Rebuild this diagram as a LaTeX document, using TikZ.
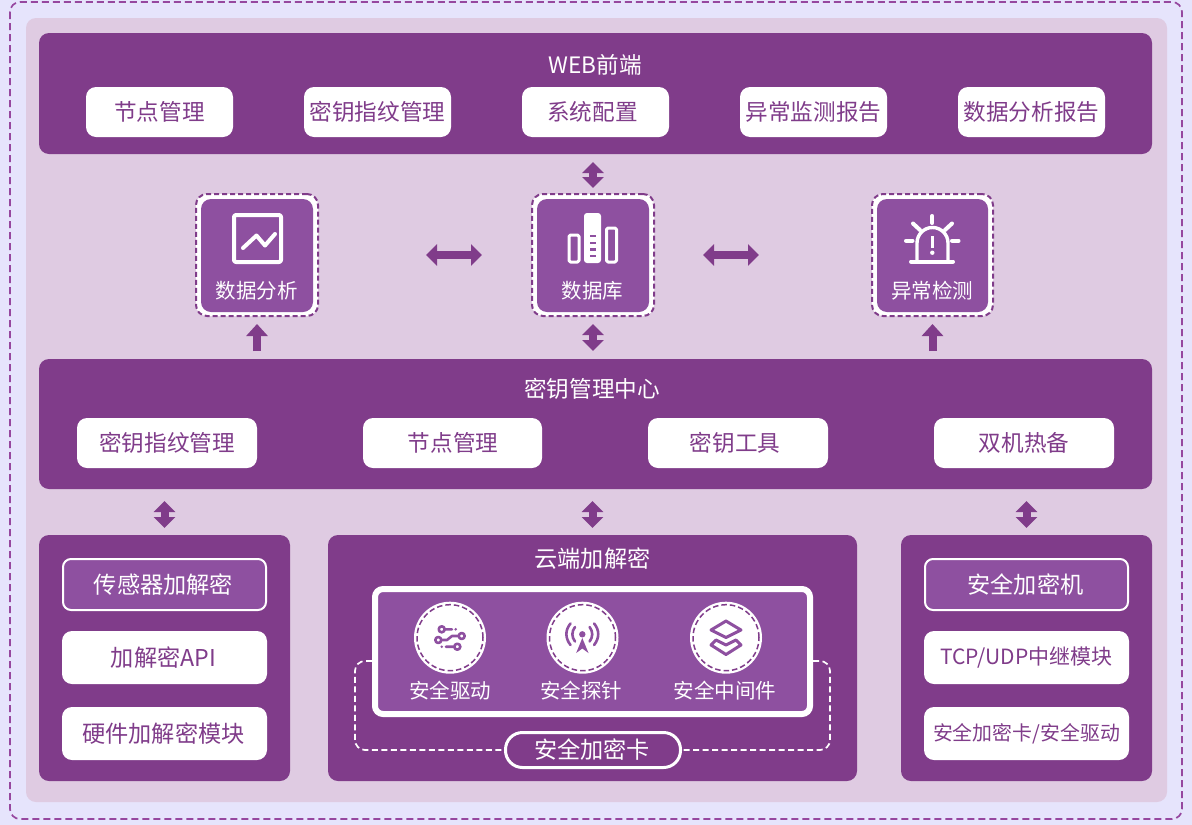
\documentclass[tikz,border=0pt]{standalone}
\usepackage{fontspec}
\setmainfont{Noto Sans CJK SC}
\usetikzlibrary{arrows.meta,calc}
\definecolor{mainp}{HTML}{803C8A}
\definecolor{innerp}{HTML}{8E50A0}
\definecolor{panelp}{HTML}{DFCBE2}
\definecolor{outerb}{HTML}{E6E4FC}
\definecolor{dashp}{HTML}{96479F}
\tikzset{
  sized/.style 2 args={minimum width=#1pt,minimum height=#2pt},
  box/.style={rounded corners=#1,inner sep=0pt,outer sep=0pt,anchor=north west},
  band/.style={box=10pt,fill=mainp},
  big/.style={font=\fontsize{23.2}{24}\selectfont},
  chip/.style={box=10pt,fill=white,text=mainp,font=\fontsize{22.6}{23}\selectfont},
  chipout/.style={box=8pt,fill=innerp,draw=white,line width=2pt,text=white,big},
  title/.style={text=white,font=\fontsize{22.6}{23}\selectfont,inner sep=0pt},
  lab/.style={text=white,font=\fontsize{20.5}{20.5}\selectfont,inner sep=0pt},
  dashbox/.style={box=11pt,fill=white,draw=mainp,line width=2pt,dash pattern=on 5pt off 3pt},
  core/.style={box=10pt,fill=innerp},
  biarrow/.style={draw=mainp,line width=8pt,{Triangle[length=11pt,width=21pt,fill=mainp]}-{Triangle[length=11pt,width=21pt,fill=mainp]}},
  uparrow/.style={draw=mainp,line width=8pt,-{Triangle[length=12pt,width=21pt,fill=mainp]}},
  ico/.style={draw=white,line width=4pt,line cap=round,line join=round},
  icop/.style={draw=innerp,line width=2.6pt,line cap=round,line join=round},
  disc/.style={circle,fill=white,inner sep=0pt,minimum size=72pt,outer sep=0pt},
  cable/.style={draw=white,line width=1.7pt,dash pattern=on 6pt off 3.5pt,rounded corners=10pt},
}
\begin{document}
\begin{tikzpicture}[x=1pt,y=-1pt]
\useasboundingbox (0,0) rectangle (1192,825);
\fill[outerb] (0,0) rectangle (1192,825);
\draw[dashp,line width=1.7pt,dash pattern=on 7pt off 4pt,rounded corners=10pt] (10,2) rectangle (1182,819);
\fill[panelp,rounded corners=10pt] (26,18) rectangle (1167,802);
% WEB
\node[band,sized={1113}{121}] (web) at (39,33) {};
\node[title] (webt) at (595,64.5) {WEB前端};
\foreach \n/\x/\dx/\t in {w1/86/0/节点管理,w2/304/0/密钥指纹管理,w3/522/-6/系统配置,w4/740/0/异常监测报告,w5/958/0/数据分析报告}
  \node[chip,sized={147}{50}] (\n) at (\x,87) {\kern\dx pt\raisebox{1pt}{\t}};
% centre row
\node[dashbox,sized={122}{122}] (ana) at (196,194) {};
\node[core,sized={112}{113}] (anai) at (201,199) {};
\node[lab] (anat) at (256.5,290.5) {数据分析};
\node[dashbox,sized={122}{122}] (db) at (532,194) {};
\node[core,sized={112}{113}] (dbi) at (537,199) {};
\node[lab] (dbt) at (592.5,290.5) {数据库};
\node[dashbox,sized={121}{122}] (ala) at (872,194) {};
\node[core,sized={111}{113}] (alai) at (877,199) {};
\node[lab] (alat) at (932,290.5) {异常检测};
% chart icon
\draw[ico,rounded corners=2pt,line cap=butt] (234,215) rectangle (281,262);
\draw[ico] (243,248) -- (256.5,235.5) -- (265,245.5) -- (275,234);
% db icon
\draw[ico,line width=3pt,rounded corners=1.5pt] (569,235) rectangle (579,262);
\draw[ico,line width=3pt,rounded corners=1.5pt] (606.5,228) rectangle (616.5,262);
\fill[white,rounded corners=3pt] (584,213) rectangle (601,263);
\foreach \y in {236,243,249.5,256} \fill[innerp] (590,\y-1.3) rectangle (596,\y+1.3);
% alarm icon
\draw[ico] (911,261.5) -- (953,261.5);
\draw[ico,line width=3.4pt] (917,261) -- (917,243) arc[start angle=180,end angle=0,radius=15.5,y radius=-15.5] -- (948,261);
\draw[ico] (932.3,216) -- (932.3,223);
\draw[ico] (913,223.5) -- (920,230);
\draw[ico] (952,223.5) -- (945,230);
\draw[ico] (906,240.7) -- (912.5,240.7);
\draw[ico] (952,240.7) -- (958.5,240.7);
\draw[white,line width=3.4pt] (932.3,236) -- (932.3,248);
\fill[white] (932.3,252.7) circle (2.2pt);
% key centre
\node[band,sized={1113}{130}] (kmc) at (39,359) {};
\node[title] (kmct) at (592,389) {密钥管理中心};
\foreach \n/\x/\w/\dx/\t in {k1/77/180/0/密钥指纹管理,k2/363/179/1/节点管理,k3/648/180/-6/密钥工具,k4/934/180/0/双机热备}
  \node[chip,sized={\w}{50}] (\n) at (\x,418) {\kern\dx pt\raisebox{-1pt}{\t}};
% bottom
\node[band,sized={251}{246}] (bl) at (39,535) {};
\node[band,sized={529}{246}] (bm) at (328,535) {};
\node[band,sized={251}{246}] (br) at (901,535) {};
\node[chipout,sized={203}{51}] (l1) at (63,559) {\kern-2pt传感器加解密};
\node[chip,big,sized={205}{53}] (l2) at (62,631) {\kern-2pt加解密API};
\node[chip,big,sized={205}{53}] (l3) at (62,707) {\kern-2pt硬件加解密模块};
\node[chipout,sized={203}{51}] (r1) at (925,559) {\kern-2pt安全加密机};
\node[chip,sized={205}{53},font=\fontsize{21}{21}\selectfont] (r2) at (924,631) {\raisebox{-3pt}{TCP/UDP中继模块}};
\node[chip,sized={205}{53},font=\fontsize{19.9}{20}\selectfont] (r3) at (924,707) {\raisebox{-2pt}{安全加密卡/安全驱动}};
\node[title,big] (bmt) at (592.5,559) {云端加解密};
% cable + pill
\node[box=17pt,fill=mainp,draw=white,line width=3pt,sized={175}{35},text=white,big] (card) at (505.5,732.5) {\kern-2pt安全加密卡};
\node[box=8pt,fill=innerp,draw=white,line width=6pt,sized={435}{125}] (sec) at (375,589) {};
\coordinate (cl) at (372,661);
\coordinate (cr) at (813,661);
\draw[cable] (cl) -- (355,661) -- (355,750) -- (card.west);
\draw[cable] (cr) -- (830,661) -- (830,750) -- (card.east);
% discs
\foreach \n/\x in {d1/450,d2/582.5,d3/726}{
  \node[disc] (\n) at (\x,637.7) {};
  \draw[mainp,line width=1.5pt,dash pattern=on 5.5pt off 3pt] (\n) circle (33pt);
}
% circuit icon
\draw[icop] (441.7,629.3) circle (3pt) (445,629.3) -- (452,629.3);
\draw[icop] (438.3,640) circle (3pt) (441.6,640) -- (447,640) -- (452,636) -- (458.4,636);
\draw[icop] (461.7,636) circle (3pt);
\draw[icop] (457.3,646.7) circle (3pt) (454,646.7) -- (446,646.7);
\fill[innerp] (455.7,629.3) circle (1.4pt) (441.7,646.7) circle (1.4pt);
% antenna icon
\fill[innerp] (582.3,634.3) circle (3.2pt);
\fill[innerp] (582.3,638) -- (588.5,653) -- (582.3,648.5) -- (576.2,653) -- cycle;
\draw[icop] (575,627) .. controls (571.5,631.5) and (571.5,637) .. (575,641.5);
\draw[icop] (589.6,627) .. controls (593.1,631.5) and (593.1,637) .. (589.6,641.5);
\draw[icop] (570.5,623.5) .. controls (565,630) and (565,638) .. (570.5,645);
\draw[icop] (594.1,623.5) .. controls (599.6,630) and (599.6,638) .. (594.1,645);
% layers icon
\draw[icop,line width=3pt] (726,621) -- (741,630) -- (726,637.5) -- (711,630) -- cycle;
\draw[icop,line width=3pt] (716,640) -- (711,645) -- (726,654.5) -- (741,645) -- (736,640) -- (726,645) -- cycle;
\node[lab] (d1t) at (450,690.5) {安全驱动};
\node[lab] (d2t) at (581,690.5) {安全探针};
\node[lab] (d3t) at (725,690.5) {安全中间件};
% connectors
\draw[biarrow] ([yshift=-8]web.south -| db.north) -- ([yshift=6]db.north);
\draw[biarrow] ([yshift=-8]db.south) -- ([yshift=8]kmc.north -| db.south);
\draw[biarrow] ($(ana.east)+(108,0)$) -- ($(ana.east)+(164,0)$);
\draw[biarrow] ($(db.east)+(49,0)$) -- ($(ala.west)+(-113,0)$);
\draw[uparrow] ([yshift=8]ana.south |- kmc.north) -- ([yshift=-8]ana.south);
\draw[uparrow] ([yshift=8]ala.south |- kmc.north) -- ([yshift=-8]ala.south);
\draw[biarrow] ([yshift=-12]kmc.south -| bl.north) -- ([yshift=7]bl.north);
\draw[biarrow] ([yshift=-12]kmc.south -| bm.north) -- ([yshift=7]bm.north);
\draw[biarrow] ([yshift=-12]kmc.south -| br.north) -- ([yshift=7]br.north);
\end{tikzpicture}
\end{document}
